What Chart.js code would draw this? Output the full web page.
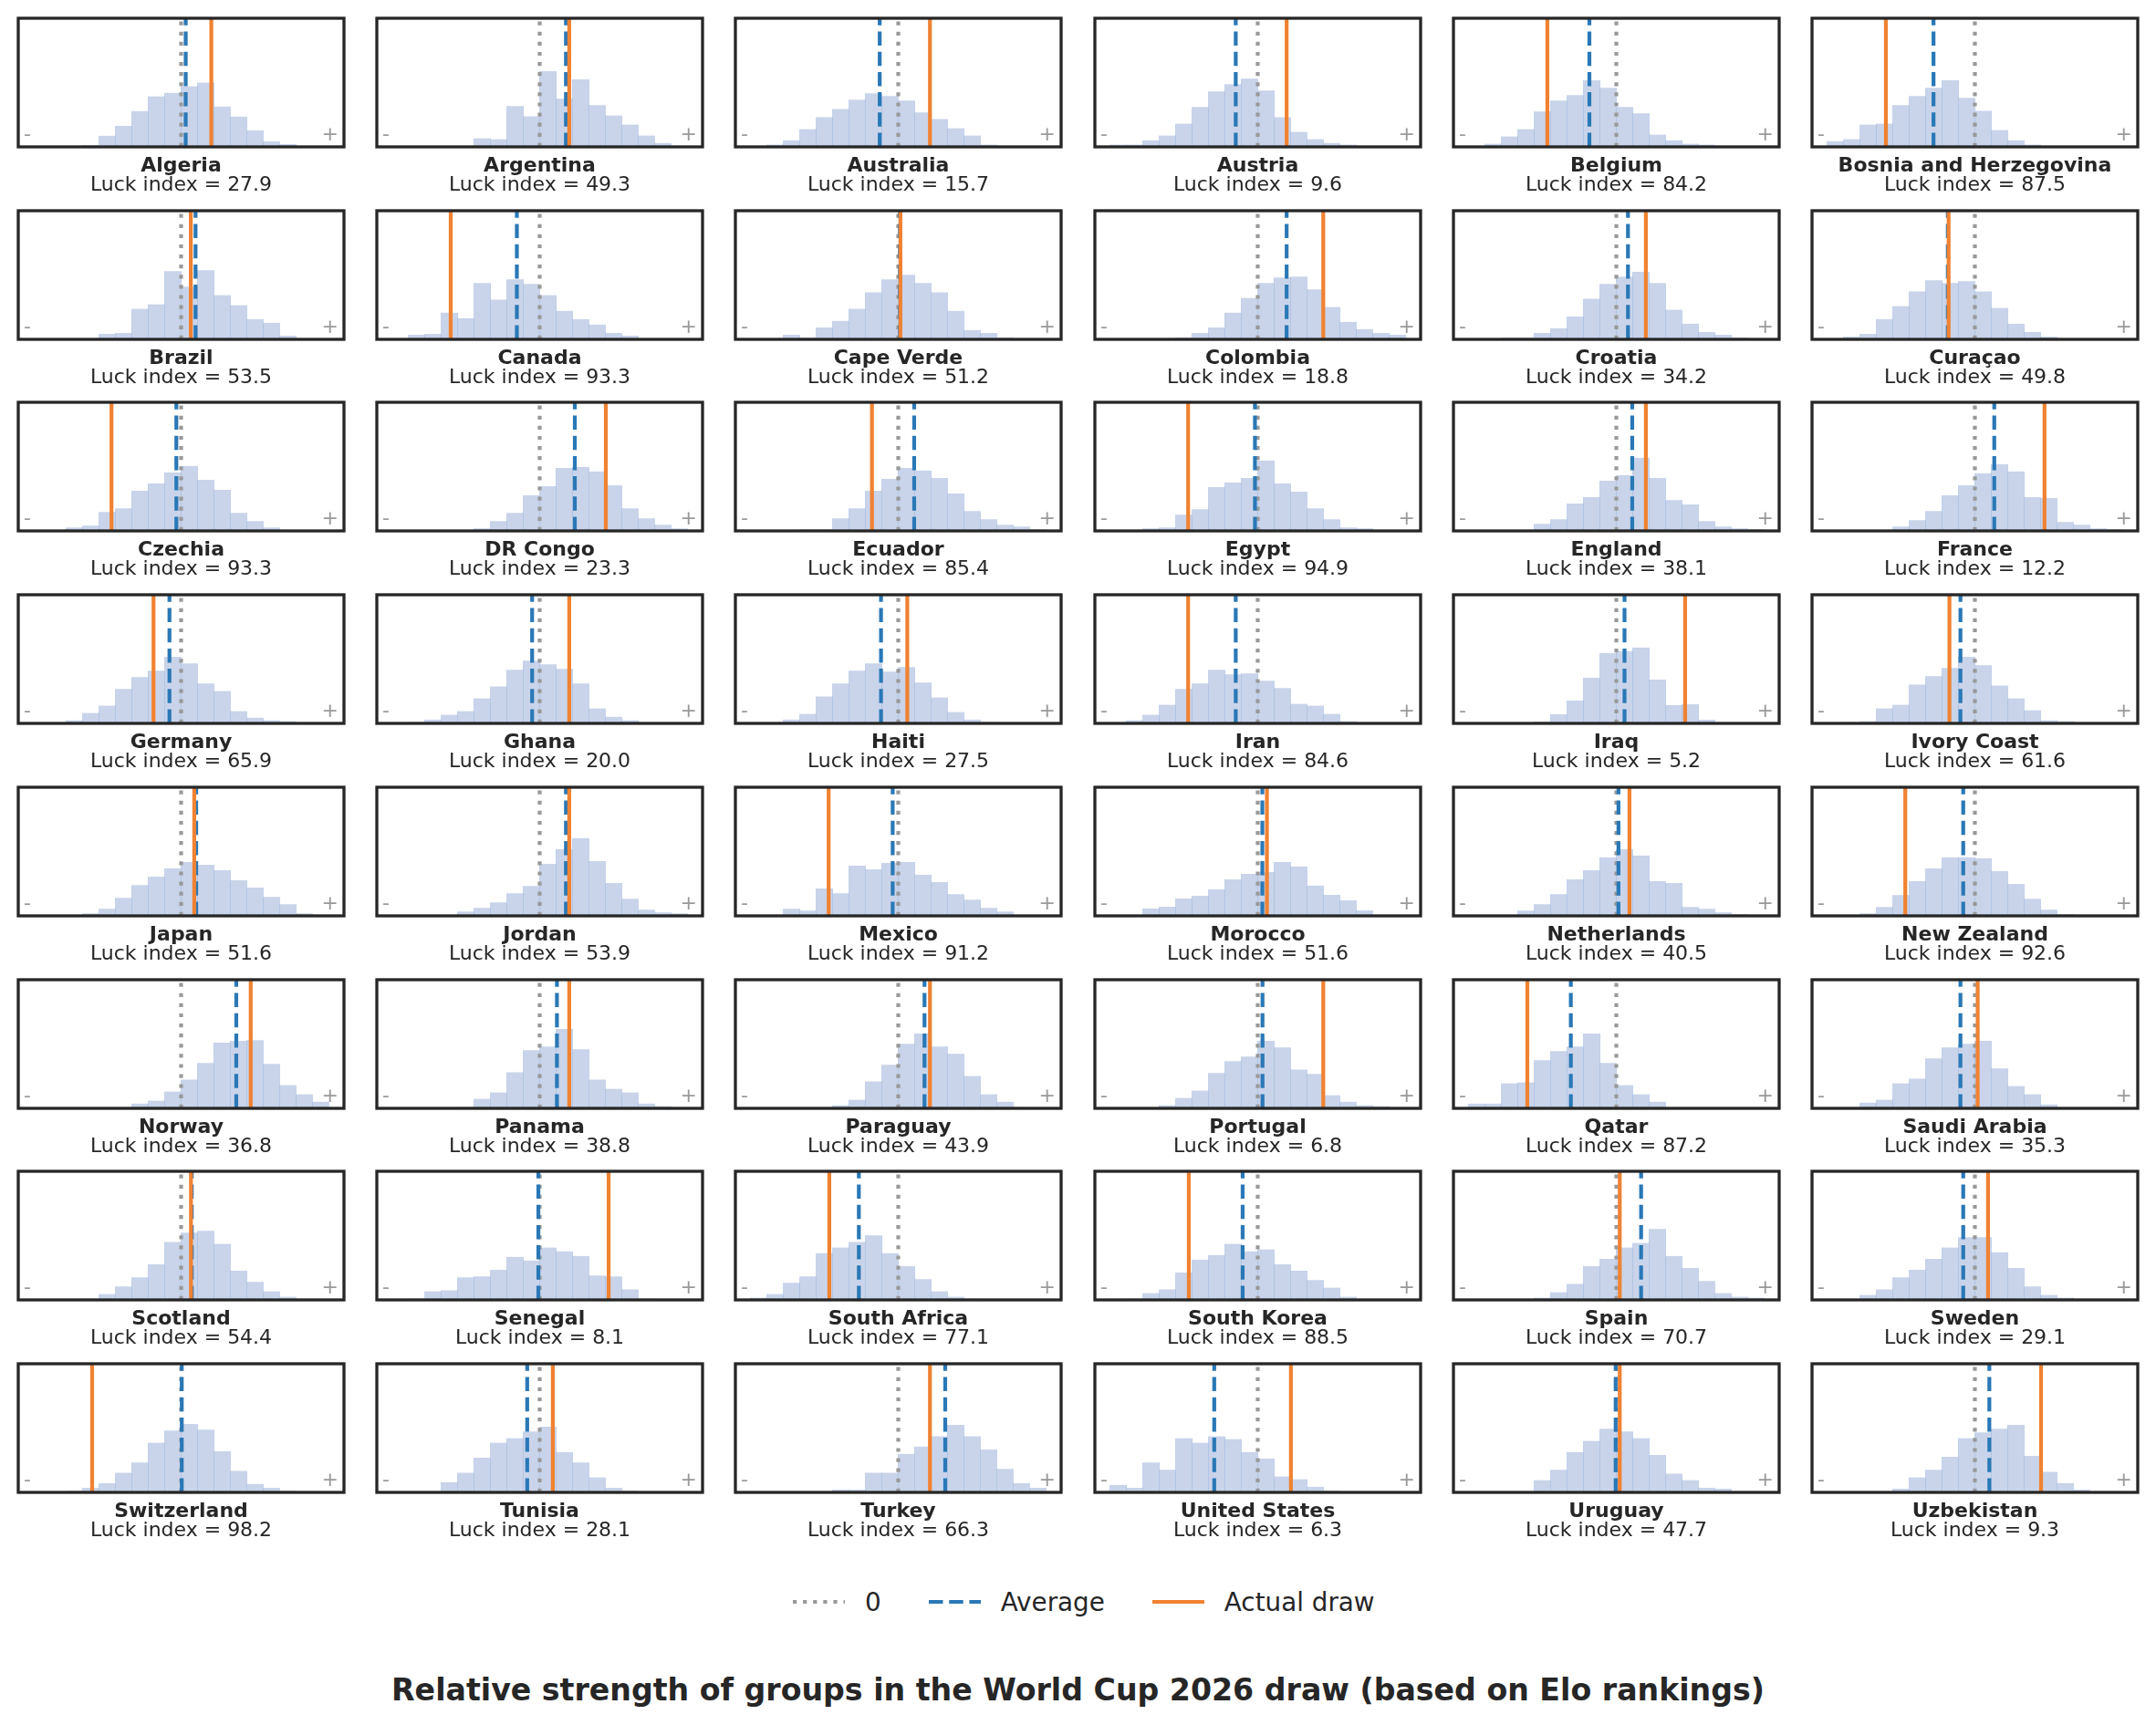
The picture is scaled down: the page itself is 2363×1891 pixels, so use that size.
<!DOCTYPE html>
<html>
<head>
<meta charset="utf-8">
<title>Relative strength of groups in the World Cup 2026 draw</title>
<script src="https://cdn.jsdelivr.net/npm/chart.js@4.4.1/dist/chart.umd.min.js"></script>
<style>
  html, body { margin: 0; padding: 0; background: #fff; }
  body { width: 2363px; height: 1891px; position: relative; overflow: hidden;
         font-family: "DejaVu Sans", sans-serif; color: #262626; }
  canvas.panel { position: absolute; }
  .lbl { position: absolute; font-size: 22px; line-height: 22px; white-space: nowrap; }
  .name { font-weight: bold; text-align: center; }
  .luck { text-align: center; }
  .sign { color: #999999; }
  #legend { position: absolute; left: 869px; top: 1741px; height: 30px;
            display: flex; align-items: center; font-size: 27.8px; white-space: nowrap; }
  #legend svg { margin-right: 22px; }
  #legend span { margin-right: 52px; }
  #suptitle { position: absolute; left: 0; width: 2363px; top: 1836px; text-align: center;
              font-size: 33.2px; line-height: 33.5px; font-weight: bold; }
</style>
</head>
<body>
<script>
// Teams in plotting order (6 columns x 8 rows)
const teams = ["Algeria", "Argentina", "Australia", "Austria", "Belgium", "Bosnia and Herzegovina",
  "Brazil", "Canada", "Cape Verde", "Colombia", "Croatia", "Curaçao",
  "Czechia", "DR Congo", "Ecuador", "Egypt", "England", "France",
  "Germany", "Ghana", "Haiti", "Iran", "Iraq", "Ivory Coast",
  "Japan", "Jordan", "Mexico", "Morocco", "Netherlands", "New Zealand",
  "Norway", "Panama", "Paraguay", "Portugal", "Qatar", "Saudi Arabia",
  "Scotland", "Senegal", "South Africa", "South Korea", "Spain", "Sweden",
  "Switzerland", "Tunisia", "Turkey", "United States", "Uruguay", "Uzbekistan"];

const luckIndex = [27.9, 49.3, 15.7, 9.6, 84.2, 87.5,
  53.5, 93.3, 51.2, 18.8, 34.2, 49.8,
  93.3, 23.3, 85.4, 94.9, 38.1, 12.2,
  65.9, 20.0, 27.5, 84.6, 5.2, 61.6,
  51.6, 53.9, 91.2, 51.6, 40.5, 92.6,
  36.8, 38.8, 43.9, 6.8, 87.2, 35.3,
  54.4, 8.1, 77.1, 88.5, 70.7, 29.1,
  98.2, 28.1, 66.3, 6.3, 47.7, 9.3];

// Relative group strength, in histogram-bin units (0 = neutral)
const averages = [0.28, 1.6, -1.13, -1.34, -1.64, -2.52,
  0.88, -1.39, 0.1, 1.76, 0.71, -1.65,
  -0.29, 2.14, 0.97, -0.17, 0.97, 1.18,
  -0.71, -0.46, -1.05, -1.34, 0.5, -0.88,
  0.92, 1.6, -0.34, 0.28, 0.13, -0.71,
  3.36, 1.05, 1.6, 0.29, -2.77, -0.88,
  0.65, -0.08, -2.4, -0.92, 1.51, -0.71,
  0.04, -0.76, 2.86, -2.65, -0.04, 0.88];

const actualDraws = [1.84, 1.8, 1.93, 1.76, -4.2, -5.42,
  0.59, -5.42, 0.13, 3.99, 1.8, -1.6,
  -4.24, 4.03, -1.6, -4.24, 1.8, 4.24,
  -1.68, 1.8, 0.55, -4.24, 4.19, -1.55,
  0.8, 1.8, -4.24, 0.56, 0.8, -4.24,
  4.24, 1.8, 1.93, 3.99, -5.42, 0.17,
  0.6, 4.2, -4.2, -4.2, 0.21, 0.8,
  -5.42, 0.8, 1.93, 2.02, 0.21, 4.03];

// Left edge of the first histogram bin of each team
const binStarts = [-6, -4, -8, -9, -8, -9,
  -5, -8, -7, -5, -7, -8,
  -7, -4, -6, -7, -5, -5,
  -7, -8, -7, -8, -5, -8,
  -6, -5, -7, -9, -6, -7,
  -3, -5, -4, -6, -9, -7,
  -6, -8, -9, -8, -5, -7,
  -7, -7, -4, -9, -7, -5];

// Histogram heights of the simulated draws (share of the axis height, %)
const histograms = [
  [1.4, 8.6, 16.4, 27.9, 39.3, 42.1, 47.1, 50.0, 31.4, 23.6, 12.9, 4.3, 2.1],
  [6.7, 6.0, 31.7, 23.8, 58.8, 37.4, 52.4, 32.4, 24.5, 17.4, 8.8, 3.1],
  [1.7, 5.2, 13.8, 23.1, 29.5, 36.7, 41.7, 39.5, 36.0, 26.7, 21.7, 14.5, 8.8, 1.7],
  [1.7, 1.7, 5.2, 8.8, 18.1, 31.0, 43.1, 48.8, 53.1, 43.8, 23.1, 11.7, 6.0, 3.1, 1.7],
  [2.4, 8.1, 13.8, 27.4, 36.0, 40.2, 51.7, 46.0, 31.0, 26.0, 9.5, 5.2, 2.4, 1.7],
  [4.5, 6.0, 17.4, 18.1, 32.4, 39.5, 46.0, 51.7, 38.1, 28.1, 13.1, 5.2, 1.7],
  [4.3, 5.0, 23.7, 27.3, 53.1, 40.9, 53.8, 34.4, 26.6, 15.8, 12.9, 2.9, 0.7],
  [3.6, 4.3, 20.8, 16.5, 43.8, 30.9, 46.7, 43.1, 34.4, 22.2, 15.8, 11.5, 5.0, 2.9],
  [3.6, 1.4, 9.3, 14.4, 23.7, 36.6, 46.7, 50.2, 43.8, 36.6, 22.2, 7.2, 5.0, 1.4, 0.7],
  [1.4, 5.0, 9.3, 20.8, 32.3, 43.8, 48.1, 48.8, 38.8, 25.1, 13.6, 7.9, 5.0, 3.6],
  [1.4, 1.4, 5.0, 8.6, 17.9, 31.6, 43.1, 48.8, 52.4, 43.8, 23.0, 12.2, 5.7, 3.6, 1.4],
  [2.2, 4.3, 15.8, 25.8, 37.3, 45.9, 43.8, 45.2, 37.3, 24.4, 12.2, 5.7, 2.2, 0.7],
  [2.6, 4.0, 14.8, 17.6, 31.2, 36.9, 45.5, 50.5, 39.8, 31.9, 14.0, 7.6, 2.6],
  [1.9, 7.6, 14.0, 27.6, 34.8, 49.0, 49.8, 46.2, 35.5, 17.6, 9.8, 4.8, 1.9],
  [1.2, 1.2, 9.8, 17.6, 31.2, 40.5, 49.0, 46.9, 41.2, 29.0, 15.5, 9.0, 4.8, 3.3, 1.2],
  [1.9, 2.6, 12.6, 16.9, 34.0, 37.6, 41.2, 54.8, 36.9, 30.5, 17.6, 9.0, 2.6, 1.9],
  [5.5, 9.0, 21.2, 26.2, 39.0, 43.3, 56.9, 41.2, 24.0, 20.5, 7.6, 3.3, 1.9, 1.2],
  [3.3, 8.3, 15.5, 27.6, 35.5, 44.8, 51.9, 46.2, 26.2, 25.5, 6.9, 4.8, 1.9, 1.2],
  [2.4, 8.1, 13.8, 26.7, 36.0, 41.0, 51.7, 46.7, 31.0, 25.2, 9.5, 4.5, 2.4, 1.7],
  [1.0, 3.1, 6.7, 9.5, 19.5, 28.8, 41.7, 48.8, 46.0, 42.4, 31.0, 11.7, 5.2, 2.4],
  [3.1, 7.4, 21.0, 31.0, 41.0, 46.7, 40.2, 43.8, 31.7, 20.2, 8.8, 3.1, 1.0],
  [2.4, 6.7, 14.5, 26.7, 31.0, 41.7, 38.1, 38.8, 33.1, 27.4, 15.2, 13.8, 7.4, 1.7],
  [1.4, 7.1, 17.8, 35.5, 54.7, 56.2, 59.0, 34.1, 14.2, 14.9, 2.8],
  [1.0, 1.7, 11.7, 14.5, 30.2, 36.7, 43.1, 51.7, 45.2, 29.5, 19.5, 10.2, 2.4, 1.7],
  [1.9, 5.5, 14.0, 24.0, 30.5, 36.9, 41.9, 39.8, 35.5, 27.6, 21.9, 14.8, 9.0, 1.9],
  [3.3, 6.2, 10.5, 17.6, 23.3, 40.5, 51.9, 60.5, 42.6, 25.5, 13.3, 4.8, 2.6, 1.9],
  [5.5, 4.0, 21.2, 17.6, 39.0, 36.2, 41.2, 41.9, 31.9, 26.2, 16.9, 12.6, 6.2, 3.3],
  [0.7, 0, 5.7, 7.1, 13.5, 15.6, 20.6, 28.4, 32.7, 34.1, 41.9, 38.4, 23.5, 16.4, 12.1, 4.3],
  [4.0, 9.0, 16.9, 28.3, 35.5, 45.5, 51.9, 46.9, 26.9, 25.5, 6.9, 5.5, 2.6, 1.2],
  [1.9, 6.9, 16.2, 26.9, 36.9, 45.5, 45.5, 44.8, 34.8, 24.8, 13.3, 4.8, 1.2],
  [3.8, 6.0, 13.1, 22.4, 35.2, 51.0, 52.4, 53.1, 34.5, 18.1, 11.0, 5.2],
  [1.0, 7.4, 12.4, 28.1, 45.2, 48.1, 61.7, 46.0, 22.4, 15.2, 12.4, 3.8, 1.7],
  [2.4, 6.7, 21.0, 33.8, 50.2, 58.1, 48.1, 42.4, 25.2, 11.0, 5.2, 1.0],
  [2.4, 8.1, 13.8, 27.4, 36.7, 40.2, 52.4, 47.4, 30.2, 26.7, 10.2, 5.2, 2.4, 1.7],
  [3.8, 3.8, 19.5, 20.2, 37.4, 44.5, 48.1, 58.1, 35.2, 18.1, 11.0, 5.2],
  [4.5, 6.7, 19.5, 23.1, 38.8, 47.4, 50.2, 52.4, 31.0, 17.4, 11.0, 3.1],
  [1.0, 4.6, 10.4, 17.6, 27.7, 45.1, 52.3, 53.7, 43.6, 22.7, 14.0, 6.7, 2.4],
  [1.0, 6.7, 7.5, 17.6, 18.3, 23.4, 33.5, 30.6, 40.7, 37.8, 34.2, 19.0, 18.3, 8.2, 1.0],
  [1.7, 4.6, 13.3, 18.3, 36.4, 40.7, 45.1, 50.1, 36.4, 26.3, 16.1, 6.7, 2.4, 1.0],
  [1.0, 5.3, 8.2, 21.2, 31.3, 34.9, 43.6, 37.8, 39.3, 27.7, 22.7, 15.4, 9.6, 2.4],
  [1.7, 6.0, 12.5, 26.3, 32.0, 40.7, 44.3, 55.2, 34.2, 24.8, 14.7, 5.3, 2.4, 1.7],
  [3.9, 8.2, 17.6, 23.4, 32.0, 40.7, 48.7, 48.7, 37.1, 24.8, 10.4, 3.9, 1.7],
  [1.5, 3.6, 7.3, 15.3, 23.3, 38.6, 48.1, 53.2, 48.8, 32.0, 16.7, 6.6, 3.6, 1.5, 0.7],
  [0.7, 8.0, 15.3, 26.9, 38.6, 42.2, 47.3, 51.0, 31.3, 23.3, 11.7, 3.6, 1.5],
  [2.2, 2.2, 15.3, 15.3, 29.9, 35.7, 43.7, 52.4, 43.7, 33.5, 18.2, 7.3, 3.6],
  [5.8, 3.6, 23.3, 17.5, 42.2, 38.6, 43.7, 41.5, 31.3, 26.2, 12.4, 10.2, 4.4, 1.5],
  [0.7, 0.7, 9.5, 17.5, 31.3, 40.0, 49.5, 47.3, 42.2, 29.1, 14.6, 9.5, 3.6, 2.9, 0.7],
  [2.9, 11.7, 17.5, 27.7, 42.2, 46.6, 49.5, 52.4, 28.4, 16.0, 7.3, 2.2]
];

const legendLabels = ["0", "Average", "Actual draw"];
const figureTitle = "Relative strength of groups in the World Cup 2026 draw (based on Elo rankings)";

// Layout (pixels)
const NCOLS = 6;
const colLefts = [20, 413, 806, 1200, 1593, 1986];
const rowTops = [20, 231, 441, 652, 863, 1074, 1284, 1495];
const PANEL_W = 357, PANEL_H = 141, PAD = 4;
const X_LIMIT = 9.92;

const ZERO_COLOR = "#999999", AVG_COLOR = "#2a78b6", DRAW_COLOR = "#f08232";
const LW = 4.2;
const ZERO_DASH = [4.2, 6.9], AVG_DASH = [15.5, 6.7];

const framePlugin = {
  id: "frame",
  afterDraw(chart) {
    const a = chart.chartArea;
    const ctx = chart.ctx;
    ctx.save();
    ctx.strokeStyle = "#262626";
    ctx.lineWidth = 3.3;
    ctx.strokeRect(a.left, a.top, a.right - a.left, a.bottom - a.top);
    ctx.restore();
  }
};

function vline(x, color, dash, order) {
  return {
    type: "line",
    data: [{ x: x, y: 0 }, { x: x, y: 100 }],
    borderColor: color,
    borderWidth: LW,
    borderDash: dash,
    borderCapStyle: "butt",
    pointRadius: 0,
    fill: false,
    order: order
  };
}

function addLabel(text, cls, left, top, width, align) {
  const d = document.createElement("div");
  d.className = "lbl " + cls;
  d.textContent = text;
  d.style.left = left + "px";
  d.style.top = top + "px";
  if (width) d.style.width = width + "px";
  if (align) d.style.textAlign = align;
  document.body.appendChild(d);
}

teams.forEach(function(team, i) {
  const col = i % NCOLS, row = Math.floor(i / NCOLS);
  const left = colLefts[col], top = rowTops[row];
  const bottom = top + PANEL_H;

  const canvas = document.createElement("canvas");
  canvas.className = "panel";
  canvas.width = PANEL_W + 2 * PAD;
  canvas.height = PANEL_H + 2 * PAD;
  canvas.style.left = (left - PAD) + "px";
  canvas.style.top = (top - PAD) + "px";
  document.body.appendChild(canvas);

  const bars = histograms[i].map((h, j) => ({ x: binStarts[i] + j + 0.5, y: h }));

  new Chart(canvas.getContext("2d"), {
    type: "bar",
    data: {
      datasets: [
        vline(actualDraws[i], DRAW_COLOR, [], 1),
        vline(averages[i], AVG_COLOR, AVG_DASH, 2),
        vline(0, ZERO_COLOR, ZERO_DASH, 3),
        {
          type: "bar",
          data: bars,
          backgroundColor: "#c9d4ea",
          borderColor: "#a3badf",
          borderWidth: { left: 0.6, right: 0.6, top: 0, bottom: 0 },
          borderSkipped: "start",
          barPercentage: 1,
          categoryPercentage: 1,
          order: 4
        }
      ]
    },
    options: {
      responsive: false,
      animation: false,
      events: [],
      layout: { padding: PAD },
      plugins: { legend: { display: false }, tooltip: { enabled: false } },
      scales: {
        x: { type: "linear", min: -X_LIMIT, max: X_LIMIT, display: false, offset: false,
             grid: { offset: false } },
        y: { min: 0, max: 100, display: false }
      }
    },
    plugins: [framePlugin]
  });

  // "-" and "+" hints inside the axes
  addLabel("-", "sign", left + 6, bottom - 6 - 18.6);
  addLabel("+", "sign", left, bottom - 6 - 18.6, PANEL_W - 6, "right");

  // team name and luck index under the panel
  addLabel(team, "name", left, bottom + 9.1, PANEL_W);
  addLabel("Luck index = " + luckIndex[i].toFixed(1), "luck", left, bottom + 30.1, PANEL_W);
});

// Figure legend
const legend = document.createElement("div");
legend.id = "legend";
const legendStyles = [
  { color: ZERO_COLOR, dash: ZERO_DASH },
  { color: AVG_COLOR, dash: AVG_DASH },
  { color: DRAW_COLOR, dash: [] }
];
legendLabels.forEach(function(label, k) {
  const st = legendStyles[k];
  const svg = '<svg width="57" height="10"><line x1="0" y1="5" x2="57" y2="5" stroke="' + st.color +
    '" stroke-width="' + LW + '"' + (st.dash.length ? ' stroke-dasharray="' + st.dash.join(" ") + '"' : "") +
    '/></svg>';
  legend.insertAdjacentHTML("beforeend", svg + "<span>" + label + "</span>");
});
document.body.appendChild(legend);

const title = document.createElement("div");
title.id = "suptitle";
title.textContent = figureTitle;
document.body.appendChild(title);
</script>
</body>
</html>
